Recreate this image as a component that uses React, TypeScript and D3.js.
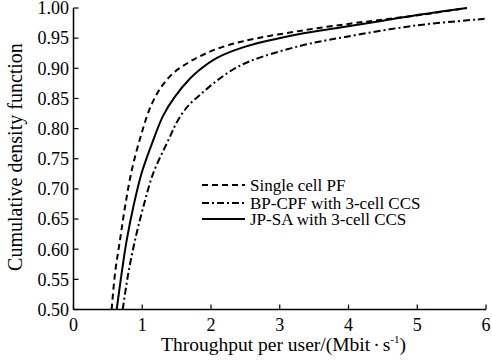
import React from "react";
import * as d3 from "d3";

const xTicks = [0, 1, 2, 3, 4, 5, 6];
const yTicks = [0.5, 0.55, 0.6, 0.65, 0.7, 0.75, 0.8, 0.85, 0.9, 0.95, 1.0];

const seriesNames = ["Single cell PF", "BP-CPF with 3-cell CCS", "JP-SA with 3-cell CCS"];

const singleX = [0.555, 0.604, 0.676, 0.749, 0.846, 0.99, 1.12, 1.27, 1.45, 1.65, 1.84, 2.08, 2.47, 3.29, 4.02, 4.6, 5.2, 5.72];
const singleY = [0.5, 0.56, 0.615, 0.67, 0.73, 0.792, 0.836, 0.868, 0.892, 0.908, 0.92, 0.932, 0.945, 0.962, 0.974, 0.982, 0.991, 1.0];

const bpX = [0.716, 0.797, 0.895, 1.015, 1.16, 1.38, 1.52, 1.67, 1.84, 2.08, 2.32, 2.57, 3.29, 3.95, 4.98, 5.98];
const bpY = [0.5, 0.56, 0.615, 0.67, 0.726, 0.781, 0.814, 0.838, 0.856, 0.879, 0.898, 0.912, 0.937, 0.952, 0.971, 0.982];

const jpX = [0.628, 0.7, 0.774, 0.87, 0.99, 1.16, 1.306, 1.476, 1.695, 1.84, 2.08, 2.5, 3.29, 3.9, 4.5, 4.98, 5.72];
const jpY = [0.5, 0.56, 0.615, 0.67, 0.726, 0.781, 0.822, 0.853, 0.883, 0.898, 0.917, 0.936, 0.957, 0.968, 0.979, 0.988, 1.0];

const W = 492;
const H = 360;
const FONT = "Liberation Serif, Times New Roman, DejaVu Serif, serif";

export default function App() {
  const x = d3.scaleLinear().domain([0, 6]).range([73.5, 486]);
  const y = d3.scaleLinear().domain([0.5, 1.0]).range([309.5, 8]);

  const line = d3
    .line<[number, number]>()
    .x((d) => x(d[0]))
    .y((d) => y(d[1]))
    .curve(d3.curveCatmullRom.alpha(0.5));

  const zip = (a: number[], b: number[]) => a.map((v, i) => [v, b[i]] as [number, number]);

  const series = [
    { name: seriesNames[0], data: zip(singleX, singleY), dash: "6,4" },
    { name: seriesNames[1], data: zip(bpX, bpY), dash: "7,3,2,3" },
    { name: seriesNames[2], data: zip(jpX, jpY), dash: "none" },
  ];

  const legendX0 = 202;
  const legendX1 = 245;
  const legendYs = [185, 203, 219];

  return (
    <svg
      width={W}
      height={H}
      style={{ position: "absolute", left: 0, top: 0, background: "#fff", fontFamily: FONT }}
    >
      <rect x={0} y={0} width={W} height={H} fill="#fff" />
      <line x1={x(0)} x2={x(6)} y1={y(0.5)} y2={y(0.5)} stroke="#000" strokeWidth={1.5} />
      <line x1={x(0)} x2={x(0)} y1={y(0.5)} y2={y(1.0)} stroke="#000" strokeWidth={1.5} />
      {xTicks.map((t) => (
        <g key={"xt" + t}>
          <line x1={x(t)} x2={x(t)} y1={y(0.5)} y2={y(0.5) - 5} stroke="#000" strokeWidth={1.2} />
          <text x={x(t)} y={331} textAnchor="middle" fontSize={18} style={{ fontFamily: FONT }}>
            {t}
          </text>
        </g>
      ))}
      {yTicks.map((t) => (
        <g key={"yt" + t}>
          <line x1={x(0)} x2={x(0) + 5} y1={y(t)} y2={y(t)} stroke="#000" strokeWidth={1.2} />
          <text x={69} y={y(t)} dy="0.35em" textAnchor="end" fontSize={18} style={{ fontFamily: FONT }}>
            {t.toFixed(2)}
          </text>
        </g>
      ))}
      <text
        transform={`translate(21.5,157) rotate(-90)`}
        textAnchor="middle"
        fontSize={20}
        style={{ fontFamily: FONT }}
      >
        Cumulative density function
      </text>
      <text x={283.5} y={351} textAnchor="middle" fontSize={19.5} style={{ fontFamily: FONT }}>
        Throughput per user/(Mbit
        <tspan dx="3">·</tspan>
        <tspan dx="3">s</tspan>
        <tspan dy="-8" fontSize={11}>-1</tspan>
        <tspan dy="8">)</tspan>
      </text>
      {series.map((s) => (
        <path
          key={s.name}
          d={line(s.data) || ""}
          fill="none"
          stroke="#000"
          strokeWidth={2}
          strokeDasharray={s.dash}
        />
      ))}
      {series.map((s, i) => (
        <g key={"lg" + i}>
          <line
            x1={legendX0}
            x2={legendX1}
            y1={legendYs[i]}
            y2={legendYs[i]}
            stroke="#000"
            strokeWidth={2}
            strokeDasharray={s.dash}
          />
          <text x={250} y={legendYs[i]} dy="0.35em" fontSize={17} style={{ fontFamily: FONT }}>
            {s.name}
          </text>
        </g>
      ))}
    </svg>
  );
}
